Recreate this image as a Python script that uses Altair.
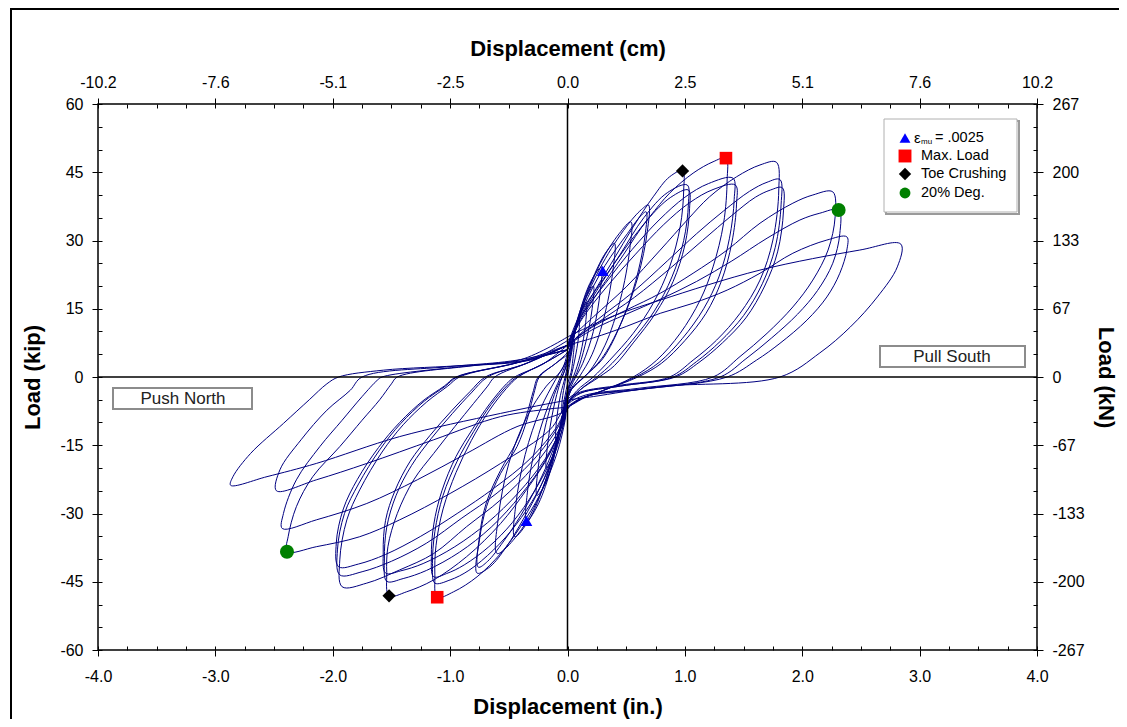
import altair as alt
import pandas as pd

FONT = "Liberation Sans"

# ---------------- axis tick values / labels ----------------
in_ticks = [-4, -3, -2, -1, 0, 1, 2, 3, 4]
in_labels = ["-4.0", "-3.0", "-2.0", "-1.0", "0.0", "1.0", "2.0", "3.0", "4.0"]
cm_labels = ["-10.2", "-7.6", "-5.1", "-2.5", "0.0", "2.5", "5.1", "7.6", "10.2"]
kip_ticks = [-60, -45, -30, -15, 0, 15, 30, 45, 60]
kip_labels = ["-60", "-45", "-30", "-15", "0", "15", "30", "45", "60"]
kn_labels = ["-267", "-200", "-133", "-67", "0", "67", "133", "200", "267"]
x_minor = [-4 + 0.25 * k for k in range(33)]
y_minor = [-60 + 5 * k for k in range(25)]

# ---------------- hysteresis cycles (displacement in., load kip) ----------------
c01 = [(0, 0), (0.02, 3), (0.04, 6), (0.06, 8), (0.05, 5), (0.03, 1), (0, -1.5), (-0.02, -4), (-0.04, -6.5),
       (-0.05, -8), (-0.045, -5), (-0.02, -1), (0, 1.5)]
c02 = [(0.02, 4), (0.05, 8), (0.08, 11.5), (0.10, 13), (0.095, 9), (0.06, 3.5), (0.02, -1), (0, -3), (-0.03, -7),
       (-0.07, -11.5), (-0.10, -14), (-0.095, -10), (-0.06, -4), (-0.02, 0), (0, 2.5)]
c03 = [(0.02, 4.5), (0.06, 9.5), (0.11, 14), (0.16, 16.5), (0.155, 12), (0.11, 5), (0.05, 0), (0, -3), (-0.04, -8),
       (-0.10, -15), (-0.15, -19), (-0.18, -20), (-0.17, -15), (-0.12, -7), (-0.06, -1), (0, 3)]
c04 = [(0.02, 5), (0.08, 11.5), (0.15, 17), (0.22, 20), (0.21, 15), (0.15, 7), (0.08, 1), (0.02, -2), (0, -4),
       (-0.05, -10), (-0.12, -18), (-0.20, -24), (-0.26, -26), (-0.25, -20), (-0.19, -11), (-0.10, -3), (-0.03, 1),
       (0, 4)]
c05 = [(0.02, 6), (0.09, 13), (0.18, 20), (0.26, 23.5), (0.29, 24.2), (0.28, 19), (0.22, 10), (0.13, 3), (0.05, -1),
       (0, -4), (-0.06, -11), (-0.15, -21), (-0.26, -28.5), (-0.35, -31.8), (-0.34, -25), (-0.27, -15), (-0.16, -6),
       (-0.06, 0), (0, 4)]
c06 = [(0.02, 6), (0.10, 14), (0.22, 22), (0.33, 27.5), (0.40, 29.4), (0.39, 24), (0.32, 14), (0.21, 5), (0.10, 0),
       (0, -4), (-0.07, -12), (-0.19, -23), (-0.33, -31.5), (-0.45, -35.1), (-0.44, -28), (-0.36, -17), (-0.23, -7),
       (-0.10, -0.5), (0, 4)]
c07 = [(0.02, 6), (0.12, 15), (0.28, 25), (0.44, 31.5), (0.54, 34.1), (0.53, 28), (0.45, 17), (0.32, 7), (0.18, 1),
       (0.06, -2), (0, -4), (-0.08, -13), (-0.22, -25), (-0.42, -34.5), (-0.60, -38.8), (-0.59, -31), (-0.50, -19),
       (-0.35, -9), (-0.18, -2), (-0.05, 1.5), (0, 5)]
c08 = [(0.02, 6), (0.12, 15), (0.30, 25), (0.50, 33), (0.63, 36.8), (0.69, 37.8), (0.68, 32), (0.60, 22), (0.46, 12),
       (0.30, 4), (0.14, 0), (0.04, -2.5), (0, -5), (-0.04, -9.5), (-0.12, -16.8), (-0.23, -24.1), (-0.38, -31.4),
       (-0.52, -37.3), (-0.66, -41.7), (-0.77, -43.1), (-0.75, -35.8), (-0.69, -28.5), (-0.57, -21.2),
       (-0.43, -15.3), (-0.34, -9), (-0.28, -3), (-0.24, 0), (-0.1, 3), (0, 5)]
c09 = [(0.02, 6), (0.13, 15), (0.32, 24.5), (0.51, 31.5), (0.62, 35.3), (0.67, 36.3), (0.66, 31), (0.58, 21),
       (0.45, 11.5), (0.29, 4), (0.14, 0), (0.04, -2.5), (0, -5), (-0.04, -9.5), (-0.13, -16.5), (-0.25, -23.5),
       (-0.40, -30.5), (-0.55, -36.3), (-0.68, -40.5), (-0.76, -41.8), (-0.75, -35), (-0.69, -27.5), (-0.57, -20.5),
       (-0.44, -14.5), (-0.35, -8.5), (-0.29, -3), (-0.25, 0), (-0.1, 3), (0, 5.5)]
c10 = [(0, 6), (0.08, 11.8), (0.22, 18.4), (0.39, 25.7), (0.56, 33), (0.73, 39.6), (0.87, 44), (0.98, 45.3),
       (0.99, 41.1), (0.96, 33), (0.87, 24.2), (0.73, 16.2), (0.56, 9.6), (0.36, 3.7), (0.22, 0), (0.08, -3), (0, -6),
       (-0.02, -9.5), (-0.09, -16.8), (-0.23, -25.6), (-0.40, -32.9), (-0.57, -38.8), (-0.77, -43.9), (-0.97, -47.2),
       (-1.11, -48.4), (-1.13, -43.5), (-1.12, -37), (-1.06, -29), (-0.95, -21), (-0.82, -14), (-0.67, -7.5),
       (-0.52, -2.5), (-0.42, 0), (-0.2, 3), (0, 6)]
c11 = [(0, 6), (0.1, 12.5), (0.25, 19), (0.45, 27), (0.65, 35), (0.85, 40.5), (1.02, 42.2), (1.03, 38), (0.99, 30),
       (0.89, 22), (0.74, 14.5), (0.55, 8), (0.38, 3), (0.25, 0), (0.1, -3), (0, -6), (-0.03, -10), (-0.11, -17),
       (-0.26, -25.5), (-0.44, -32.5), (-0.63, -38), (-0.84, -42.5), (-1.0, -44.6), (-1.13, -45.3), (-1.15, -41),
       (-1.13, -34), (-1.06, -26), (-0.94, -18.5), (-0.8, -12), (-0.65, -6), (-0.5, -1.5), (-0.43, 0), (-0.2, 3),
       (0, 6)]
c12 = [(0, 6), (0.1, 12), (0.27, 19), (0.48, 27), (0.68, 34.5), (0.88, 39.5), (1.03, 41.1), (1.04, 37), (1.0, 29),
       (0.9, 21), (0.75, 14), (0.56, 7.5), (0.4, 2.5), (0.27, 0), (0.1, -3), (0, -6), (-0.03, -10), (-0.12, -17),
       (-0.28, -25), (-0.47, -32), (-0.67, -37.3), (-0.88, -41.3), (-1.03, -43.2), (-1.14, -43.9), (-1.16, -39.5),
       (-1.14, -32.5), (-1.07, -25), (-0.95, -17.5), (-0.81, -11.5), (-0.66, -5.8), (-0.52, -1.5), (-0.45, 0),
       (-0.2, 3), (0, 7)]
c13 = [(0, 7), (0.11, 14.0), (0.30, 21.3), (0.50, 28.6), (0.70, 35.2), (0.87, 40.4), (1.07, 44.8), (1.24, 47.3),
       (1.35, 48.1), (1.36, 43.3), (1.33, 33.8), (1.24, 24.2), (1.13, 16.9), (0.96, 9.6), (0.76, 3.7), (0.56, 0),
       (0.3, -3), (0.1, -5), (0, -7), (-0.04, -9.5), (-0.15, -16.8), (-0.35, -24.8), (-0.57, -32.2), (-0.86, -39.5),
       (-1.14, -44.6), (-1.37, -47.2), (-1.52, -48.1), (-1.54, -43), (-1.53, -37.3), (-1.45, -30), (-1.31, -22.6),
       (-1.14, -16.8), (-0.96, -10.9), (-0.80, -5.8), (-0.68, -2), (-0.62, 0), (-0.3, 3.5), (0, 7)]
c14 = [(0, 7), (0.12, 13.5), (0.32, 20.5), (0.55, 28), (0.78, 34.5), (1.0, 39.5), (1.2, 42.5), (1.41, 43.7),
       (1.42, 39), (1.38, 30.5), (1.29, 22), (1.16, 15), (0.98, 8.5), (0.78, 3.2), (0.58, 0), (0.3, -3), (0.1, -5),
       (0, -7), (-0.05, -11), (-0.18, -18), (-0.4, -26), (-0.65, -33), (-0.92, -38.5), (-1.2, -42.5), (-1.4, -44.3),
       (-1.54, -44.9), (-1.56, -40), (-1.54, -33), (-1.46, -26), (-1.33, -19.5), (-1.16, -13.5), (-0.98, -8),
       (-0.82, -3.5), (-0.68, 0), (-0.35, 3), (0, 7)]
c15 = [(0, 7), (0.13, 13), (0.34, 20), (0.58, 27), (0.82, 33.5), (1.04, 38.3), (1.24, 41.2), (1.43, 42.2),
       (1.44, 38), (1.40, 29.5), (1.31, 21), (1.18, 14), (1.0, 8), (0.8, 3), (0.6, 0), (0.3, -3), (0.1, -5), (0, -7),
       (-0.05, -11), (-0.19, -18), (-0.42, -25.5), (-0.68, -32), (-0.96, -37.3), (-1.23, -41), (-1.42, -42.6),
       (-1.55, -43.1), (-1.57, -38.5), (-1.55, -31.5), (-1.47, -25), (-1.34, -18.5), (-1.17, -12.8), (-0.99, -7.5),
       (-0.83, -3.2), (-0.7, 0), (-0.35, 3), (0, 8)]
c16 = [(0, 8), (0.22, 13.2), (0.50, 19.8), (0.79, 27.9), (1.02, 34.5), (1.21, 39.6), (1.44, 44.0), (1.64, 46.6),
       (1.78, 47.2), (1.80, 41.1), (1.75, 30.1), (1.64, 21.3), (1.47, 14.0), (1.27, 8.1), (1.07, 3.7), (0.87, 0),
       (0.45, -1.8), (0.11, -3.3), (0, -5), (-0.06, -10.9), (-0.29, -19.7), (-0.57, -27.0), (-0.86, -32.9),
       (-1.14, -38.8), (-1.43, -42.4), (-1.71, -45.3), (-1.92, -46.1), (-1.94, -40.2), (-1.88, -31.4),
       (-1.77, -24.8), (-1.58, -16.5), (-1.4, -10.5), (-1.2, -5.5), (-1.02, -2), (-0.92, 0), (-0.45, 3), (0, 6)]
c17 = [(0, 6), (0.05, 8), (0.25, 12.5), (0.55, 18.5), (0.85, 25.5), (1.1, 31.5), (1.33, 36.5), (1.55, 40.8),
       (1.7, 42.8), (1.81, 43.4), (1.82, 38), (1.77, 28.5), (1.66, 20.5), (1.5, 13.5), (1.3, 7.8), (1.1, 3.4),
       (0.9, 0), (0.45, -2), (0.11, -3.5), (0, -5.5), (-0.07, -10.5), (-0.3, -18.5), (-0.6, -25.5), (-0.9, -31),
       (-1.2, -36.5), (-1.5, -40.5), (-1.75, -42.8), (-1.94, -43.5), (-1.96, -38), (-1.9, -30), (-1.78, -23.5),
       (-1.6, -16), (-1.42, -10.2), (-1.22, -5.3), (-1.04, -2), (-0.94, 0), (-0.45, 3), (0, 6)]
c18 = [(0, 6), (0.05, 8), (0.26, 12), (0.57, 17.5), (0.88, 24), (1.15, 30), (1.4, 35.5), (1.6, 39.5), (1.73, 41.1),
       (1.83, 41.6), (1.84, 36.5), (1.79, 27.5), (1.68, 20), (1.52, 13), (1.32, 7.5), (1.12, 3.2), (0.92, 0),
       (0.45, -2), (0.11, -3.6), (0, -6), (-0.08, -10.5), (-0.32, -18), (-0.63, -24.5), (-0.94, -30), (-1.25, -35),
       (-1.55, -39), (-1.78, -41.1), (-1.95, -41.7), (-1.97, -36.5), (-1.91, -29), (-1.79, -22.5), (-1.61, -15.5),
       (-1.43, -10), (-1.23, -5.2), (-1.05, -2), (-0.95, 0), (-0.45, 3), (0, 7)]
c19 = [(0, 7), (0.22, 11.1), (0.50, 14.7), (0.79, 18.4), (1.07, 22.8), (1.36, 27.9), (1.64, 33.8), (1.92, 38.2),
       (2.09, 40), (2.26, 40.7), (2.28, 35.2), (2.22, 27.9), (2.09, 21.3), (1.92, 15.4), (1.70, 9.6), (1.47, 4.5),
       (1.24, 0), (0.6, -2.5), (0.15, -4), (0, -6), (-0.15, -11.6), (-0.57, -19), (-1.0, -25.6), (-1.43, -31.4),
       (-1.77, -35.1), (-2.14, -37.3), (-2.39, -38.4), (-2.38, -35.1), (-2.31, -28.5), (-2.17, -21.9),
       (-1.94, -15.3), (-1.75, -9.5), (-1.6, -5), (-1.5, -1.5), (-1.45, 0), (-0.8, 2.5), (-0.3, 4), (0, 7)]
c20 = [(0, 7), (0.22, 10.5), (0.5, 13.8), (0.8, 17.2), (1.1, 21), (1.4, 25.5), (1.7, 30.5), (1.98, 34.5),
       (2.15, 36), (2.31, 36.7), (2.32, 31.5), (2.26, 25), (2.13, 19), (1.96, 13.8), (1.74, 8.6), (1.52, 4),
       (1.3, 0), (0.6, -2.8), (0.15, -4.3), (0, -6.5), (-0.06, -8), (-0.43, -10.9), (-0.86, -16.8), (-1.28, -22.6),
       (-1.71, -27.8), (-2.14, -31.4), (-2.43, -33.3), (-2.42, -30), (-2.31, -22.6), (-2.11, -15.3), (-1.92, -9.5),
       (-1.75, -4.3), (-1.62, -0.7), (-1.58, 0), (-0.9, 2.3), (-0.3, 3.8), (0, 7)]
c21 = [(0, 7), (0.22, 8.6), (0.50, 11.1), (0.79, 14.0), (1.07, 16.2), (1.36, 19.1), (1.64, 22.8), (1.92, 27.2),
       (2.21, 30.1), (2.38, 30.8), (2.38, 27.9), (2.32, 22.8), (2.21, 17.6), (2.04, 12.5), (1.81, 7.4), (1.61, 3.7),
       (1.36, 0), (0.7, -2.5), (0.2, -4), (0, -6.5), (-0.15, -7), (-0.57, -8.7), (-1.14, -13.8), (-1.71, -19),
       (-2.14, -22.6), (-2.48, -25), (-2.45, -20.4), (-2.27, -13.8), (-2.05, -7.3), (-1.85, -2.9), (-1.75, 0),
       (-1.0, 2.3), (-0.4, 3.8), (0, 8.8)]
c22 = [(0, 8.8), (0.35, 13), (0.79, 16.9), (1.64, 23.5), (2.49, 27.9), (2.84, 29.2), (2.81, 24.2), (2.64, 17.6),
       (2.41, 11), (2.15, 5.3), (1.81, 0), (0.79, -2.1), (0.22, -4.3), (0, -5.1), (-0.57, -8), (-1.43, -13.1),
       (-2.14, -19), (-2.56, -21.9), (-2.87, -23.8), (-2.85, -21.9), (-2.70, -16.8), (-2.42, -10.2), (-2.2, -5),
       (-2.05, -1.5), (-1.95, 0), (-1.57, 1.5), (-0.86, 2.6), (-0.43, 3.7), (0, 6)]

cycles = [c01, c02, c03, c04, c05, c06, c07, c08, c09, c10, c11, c12, c13, c14, c15, c16, c17, c18, c19, c20,
          c21, c22]

# ---------------- event markers ----------------
mk_x = [0.30, -0.35, 1.35, -1.11, 0.98, -1.52, 2.31, -2.39]
mk_y = [23.3, -31.6, 48.1, -48.4, 45.3, -48.1, 36.7, -38.4]
mk_kind = ["mu", "mu", "max", "max", "toe", "toe", "deg", "deg"]
kinds = ["mu", "max", "toe", "deg"]
kind_shapes = ["triangle-up", "square", "diamond", "circle"]
kind_colors = ["#0000ff", "#ff0000", "#000000", "#008000"]
kind_sizes = [140, 196, 180, 140]
leg_labels = ["= .0025", "Max. Load", "Toe Crushing", "20% Deg."]

# ---------------- build tables ----------------
rows = []
n = 0
for k, c in enumerate(cycles):
    for (xv, yv) in c:
        rows.append({"x": xv, "y": yv, "cycle": k + 1, "i": n})
        n += 1
loops_df = pd.DataFrame(rows)
mk_df = pd.DataFrame({"x": mk_x, "y": mk_y, "kind": mk_kind})
one = pd.DataFrame({"a": [0]})

W, H = 939, 546
xs = alt.Scale(domain=[-4, 4], nice=False, zero=False)
ys = alt.Scale(domain=[-60, 60], nice=False, zero=False)


def lab_expr(labels, offset, step):
    arr = "[" + ",".join("'" + s + "'" for s in labels) + "]"
    return f"{arr}[round((datum.value + {offset}) / {step})]"


def major(orient, values, expr, title, lpad, tpad):
    return alt.Axis(orient=orient, values=values, labelExpr=expr, title=title, domain=False, grid=False,
                    tickSize=6, tickColor="black", tickWidth=1, labelFontSize=16, labelColor="black",
                    labelFont=FONT, titleFont=FONT, titleFontSize=22, titleFontWeight="bold",
                    titleColor="black", labelPadding=lpad, titlePadding=tpad, labelFlush=False,
                    labelOverlap=False)


def minor(orient, values, offset):
    return alt.Axis(orient=orient, values=values, offset=offset, labels=False, domain=False, grid=False,
                    tickSize=4, tickColor="black", tickWidth=1, title="")


loops = alt.Chart(loops_df).mark_line(interpolate="catmull-rom", color="#000080", strokeWidth=1).encode(
    x=alt.X("x:Q", scale=xs,
            axis=major("bottom", in_ticks, lab_expr(in_labels, 4, 1), "Displacement (in.)", 12, 12)),
    y=alt.Y("y:Q", scale=ys,
            axis=major("left", kip_ticks, lab_expr(kip_labels, 60, 15), "Load (kip)", 9, 15)),
    order=alt.Order("i:Q"),
)

hz = alt.Chart(one).mark_rule(color="black", strokeWidth=1.5).encode(
    y=alt.YDatum(0, type="quantitative", scale=ys, axis=minor("right", y_minor, -W)))
vz = alt.Chart(one).mark_rule(color="black", strokeWidth=1.5).encode(
    x=alt.XDatum(0, type="quantitative", scale=xs, axis=minor("top", x_minor, -H)))

ghost = alt.Chart(mk_df).mark_point(opacity=0).encode(
    x=alt.X("x:Q", scale=xs, axis=minor("bottom", x_minor, -H)),
    y=alt.Y("y:Q", scale=ys, axis=minor("left", y_minor, -W)),
)

markers = alt.Chart(mk_df).mark_point(filled=True, opacity=1).encode(
    x=alt.X("x:Q", scale=xs,
            axis=major("top", in_ticks, lab_expr(cm_labels, 4, 1), "Displacement (cm)", 8, 14)),
    y=alt.Y("y:Q", scale=ys,
            axis=major("right", kip_ticks, lab_expr(kn_labels, 60, 15), "Load (kN)", 9, 9)),
    shape=alt.Shape("kind:N", scale=alt.Scale(domain=kinds, range=kind_shapes), legend=None),
    color=alt.Color("kind:N", scale=alt.Scale(domain=kinds, range=kind_colors), legend=None),
    size=alt.Size("kind:O", scale=alt.Scale(domain=kinds, range=kind_sizes), legend=None),
)


def box(x1, x2, y1, y2, stroke, sw, fill="white"):
    return alt.Chart(one).mark_rect(fill=fill, stroke=stroke, strokeWidth=sw).encode(
        x=alt.value(x1), x2=alt.value(x2), y=alt.value(y1), y2=alt.value(y2))


def label(txt, x, y, size, align="left", color="black"):
    return alt.Chart(one).mark_text(text=txt, font=FONT, fontSize=size, align=align, baseline="middle",
                                    color=color).encode(x=alt.value(x), y=alt.value(y))


push_box = box(15, 154, 284, 305, "#8c8c8c", 2)
push_txt = label("Push North", 85, 295, 17, "center", "#222222")
pull_box = box(782, 927, 242, 263, "#8c8c8c", 2)
pull_txt = label("Pull South", 854, 253, 17, "center", "#222222")

leg_shadow = box(788, 921, 17, 110, "#9a9a9a", 2)
leg_box = box(786, 919, 15, 108, "#b0b0b0", 1)
leg_rows = [34, 52, 70, 89]
leg_layers = []
for k in range(4):
    leg_layers.append(
        alt.Chart(one).mark_point(filled=True, opacity=1, shape=kind_shapes[k], color=kind_colors[k],
                                  size=kind_sizes[k] * 0.85).encode(x=alt.value(807), y=alt.value(leg_rows[k])))
leg_layers.append(label("\u03b5", 816, leg_rows[0], 15))
leg_layers.append(label("mu", 823, leg_rows[0] + 4, 8))
leg_layers.append(label(leg_labels[0], 837, leg_rows[0], 14.5))
for k in range(1, 4):
    leg_layers.append(label(leg_labels[k], 823, leg_rows[k], 14.5))

# outer page frame (extends past the picture on the right and bottom)
frame = alt.Chart(one).mark_rect(fill="transparent", stroke="black", strokeWidth=2).encode(
    x=alt.value(-87), x2=alt.value(1300), y=alt.value(-95), y2=alt.value(900))

chart = alt.layer(
    loops, hz, vz, ghost, markers, push_box, push_txt, pull_box, pull_txt, leg_shadow, leg_box,
    *leg_layers, frame
).resolve_axis(x="independent", y="independent").properties(
    width=W, height=H,
    autosize=alt.AutoSizeParams(type="none"),
    padding={"left": 90, "top": 96, "right": 82, "bottom": 69},
    background="white",
).configure_view(stroke="black", strokeWidth=1.5)

chart.save("out.html", embed_options={"renderer": "svg", "actions": False})
